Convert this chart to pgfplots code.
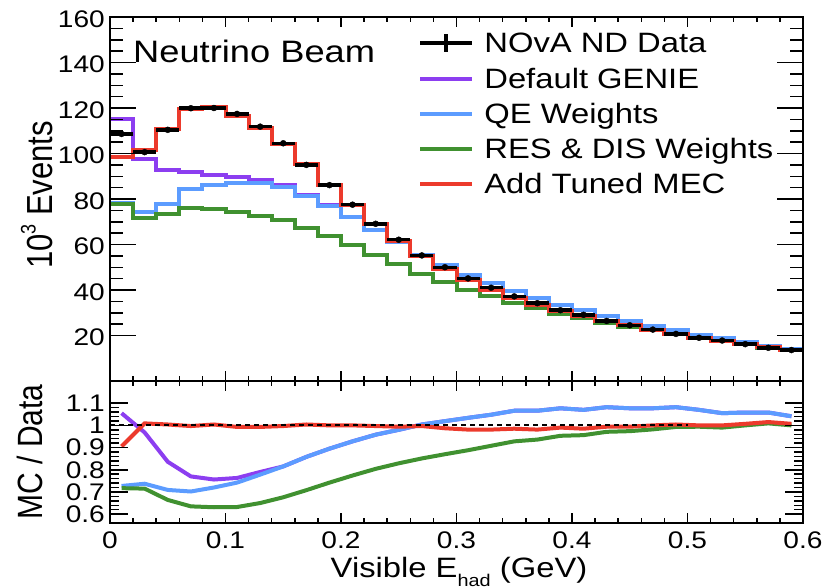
\documentclass[border=0pt]{standalone}
\usepackage{pgfplots}
\pgfplotsset{compat=1.18}
\usepackage{pgfplotstable}
\usepackage{fontspec}
\setmainfont{Liberation Sans}[FakeStretch=1.17]
\newfontfamily\plainfont{Liberation Sans}

\definecolor{cpurple}{RGB}{140,62,240}
\definecolor{cblue}{RGB}{92,156,255}
\definecolor{cgreen}{RGB}{64,145,48}
\definecolor{cred}{RGB}{236,58,44}

\newcommand\ticfont{\fontsize{24bp}{24bp}\selectfont}
\newcommand\legfont{\fontsize{28bp}{28bp}\selectfont}

% histogram: bin low edges (last row closes the final bin at 0.6)
\pgfplotstableread{
lo    def    qe    res   mec
0.00  115.0  78.2  77.7  98.3
0.02  97.6   74.1  71.8  101.5
0.04  92.6   78.0  73.2  110.8
0.06  92.0   84.2  76.1  119.5
0.08  90.5   86.2  75.6  120.4
0.10  89.5   87.2  74.2  116.6
0.12  88.5   87.0  72.6  111.0
0.14  86.0   85.3  70.6  104.2
0.16  81.7   81.5  67.2  95.4
0.18  77.2   77.1  63.6  86.1
0.20  72.0   71.9  59.7  77.5
0.22  66.2   66.2  55.4  68.9
0.24  60.9   60.9  51.3  61.7
0.26  55.4   55.4  47.0  55.0
0.28  51.0   51.0  43.5  49.4
0.30  46.6   46.6  40.0  44.2
0.32  43.0   43.0  37.2  40.2
0.34  39.7   39.7  34.5  36.6
0.36  36.5   36.5  32.0  33.5
0.38  33.5   33.5  29.6  30.8
0.40  31.1   31.1  27.8  28.7
0.42  28.6   28.6  25.6  26.2
0.44  26.4   26.4  23.9  24.4
0.46  24.3   24.3  22.2  22.6
0.48  22.4   22.4  20.6  20.8
0.50  20.3   20.3  18.9  19.0
0.52  18.8   18.8  17.6  17.8
0.54  17.1   17.1  16.2  16.3
0.56  15.4   15.4  14.7  14.8
0.58  14.2   14.2  13.6  13.7
0.60  14.2   14.2  13.6  13.7
}\histtab

% bin centres: data and MC/Data ratios
\pgfplotstableread{
x     data   ex    ey   rdef   rqe    rres   rmec
0.01  108.6  0.01  0.4  1.055  0.727  0.717  0.905
0.03  100.6  0.01  0.4  0.968  0.737  0.715  1.009
0.05  110.4  0.01  0.4  0.836  0.709  0.664  1.004
0.07  119.9  0.01  0.4  0.770  0.702  0.635  0.997
0.09  120.0  0.01  0.4  0.756  0.720  0.631  1.004
0.11  117.4  0.01  0.4  0.763  0.742  0.632  0.993
0.13  111.8  0.01  0.4  0.790  0.778  0.650  0.993
0.15  104.5  0.01  0.4  0.815  0.815  0.676  0.997
0.17  95.0   0.01  0.4  0.858  0.858  0.708  1.004
0.19  86.1   0.01  0.4  0.895  0.895  0.742  1.000
0.21  77.5   0.01  0.4  0.928  0.928  0.774  1.000
0.23  69.1   0.01  0.4  0.958  0.958  0.804  0.997
0.25  62.1   0.01  0.4  0.980  0.980  0.829  0.994
0.27  55.2   0.01  0.4  1.004  1.004  0.851  0.997
0.29  50.0   0.01  0.4  1.019  1.019  0.870  0.987
0.31  45.1   0.01  0.4  1.034  1.034  0.888  0.981
0.33  41.0   0.01  0.4  1.048  1.048  0.908  0.981
0.35  37.2   0.01  0.4  1.066  1.066  0.928  0.985
0.37  34.2   0.01  0.4  1.066  1.066  0.936  0.981
0.39  31.1   0.01  0.4  1.077  1.077  0.953  0.990
0.41  29.1   0.01  0.4  1.070  1.070  0.956  0.985
0.43  26.4   0.01  0.4  1.082  1.082  0.971  0.994
0.45  24.5   0.01  0.4  1.077  1.077  0.974  0.994
0.47  22.6   0.01  0.4  1.077  1.077  0.982  1.000
0.49  20.7   0.01  0.4  1.082  1.082  0.993  1.004
0.51  19.0   0.01  0.4  1.070  1.070  0.994  1.000
0.53  17.8   0.01  0.4  1.055  1.055  0.990  1.000
0.55  16.2   0.01  0.4  1.058  1.058  1.000  1.007
0.57  14.6   0.01  0.4  1.058  1.058  1.009  1.015
0.59  13.6   0.01  0.4  1.041  1.041  1.000  1.007
}\pointtab

\pgfplotsset{
  panel/.style={
    scale only axis, width=693bp, xmin=0, xmax=0.6,
    anchor=north west,
    tick align=inside, xtick pos=both, ytick pos=both,
    axis line style={line width=2bp},
    every tick/.style={line width=1.5bp, black},
    /pgf/number format/assume math mode=true,
    tick label style={font=\ticfont},
    yticklabel style={anchor=east, inner sep=0pt, xshift=-5bp},
    xticklabel style={anchor=north, inner sep=0pt, yshift=-9bp},
  },
  xpart/.style={panel, xtick={0,0.1,0.2,0.3,0.4,0.5,0.6}, minor x tick num=4,
    ytick=\empty, major tick length=10bp, minor tick length=5bp},
  ypart/.style={panel, xtick=\empty},
  mcline/.style={line width=4bp, forget plot},
}

\begin{document}
\begin{tikzpicture}
\useasboundingbox (0,0) rectangle (830bp,-588bp);

% ---------------- top panel ----------------
\begin{axis}[xpart, at={(110bp,-17bp)}, height=364bp, ymin=0, ymax=160,
  xticklabels={},
  legend cell align=left,
  legend style={at={(rel axis cs:0.4444,0.9588)}, anchor=north west,
    draw=none, fill=none, inner sep=0pt, row sep=15bp, font=\legfont,
    nodes={inner sep=0pt, text height=20bp, text depth=0bp, anchor=west}},
]
\addlegendimage{legend image code/.code={
  \draw[line width=3.5bp, black] (0,0) -- (52bp,0);
  \draw[line width=3.5bp, black] (26bp,-9bp) -- (26bp,9bp);
  \path (64bp,0);}}
\addlegendimage{legend image code/.code={
  \draw[line width=4bp, cpurple] (0,0) -- (52bp,0); \path (64bp,0);}}
\addlegendimage{legend image code/.code={
  \draw[line width=4bp, cblue] (0,0) -- (52bp,0); \path (64bp,0);}}
\addlegendimage{legend image code/.code={
  \draw[line width=4bp, cgreen] (0,0) -- (52bp,0); \path (64bp,0);}}
\addlegendimage{legend image code/.code={
  \draw[line width=4bp, cred] (0,0) -- (52bp,0); \path (64bp,0);}}

\addplot[const plot, mcline, cpurple] table[x=lo, y=def] {\histtab};
\addplot[const plot, mcline, cblue] table[x=lo, y=qe] {\histtab};
\addplot[const plot, mcline, cgreen] table[x=lo, y=res] {\histtab};
\addplot[const plot, mcline, cred] table[x=lo, y=mec] {\histtab};
\addplot[only marks, mark=*, mark size=3bp, black, forget plot,
  error bars/.cd, x dir=both, x explicit, y dir=both, y explicit,
  error mark=none, error bar style={line width=3.5bp, black}]
  table[x=x, y=data, x error=ex, y error=ey] {\pointtab};

\legend{NOvA ND Data, Default GENIE, QE Weights, RES \& DIS Weights, Add Tuned MEC}
\end{axis}

\begin{axis}[ypart, at={(110bp,-17bp)}, height=364bp, ymin=0, ymax=160,
  ytick={20,40,60,80,100,120,140,160}, minor y tick num=3,
  major tick length=26bp, minor tick length=13bp,
  yticklabel style={yshift=-2bp}]
\end{axis}

% ---------------- ratio panel ----------------
\begin{axis}[xpart, at={(110bp,-381bp)}, height=142bp, ymin=0.56, ymax=1.2]
\addplot[mcline, cpurple] table[x=x, y=rdef] {\pointtab};
\addplot[mcline, cblue] table[x=x, y=rqe] {\pointtab};
\addplot[mcline, cgreen] table[x=x, y=rres] {\pointtab};
\addplot[mcline, cred] table[x=x, y=rmec] {\pointtab};
\addplot[black, line width=2bp, dash pattern=on 5bp off 4bp, forget plot]
  coordinates {(0,1) (0.5,1)};
\end{axis}

\begin{axis}[ypart, at={(110bp,-381bp)}, height=142bp, ymin=0.56, ymax=1.2,
  ytick={0.6,0.7,0.8,0.9,1,1.1}, yticklabels={0.6,0.7,0.8,0.9,1,1.1},
  minor y tick num=4, major tick length=18bp, minor tick length=9bp]
\end{axis}

% ---------------- texts ----------------
\node[anchor=base west, inner sep=0pt, font=\fontsize{31bp}{31bp}\selectfont]
  at (133bp,-62.7bp) {Neutrino Beam};
\node[anchor=base, inner sep=0pt, rotate=90, yscale=1.17,
  font=\plainfont\fontsize{31bp}{31bp}\selectfont]
  at (52bp,-195bp) {10\raisebox{0.45em}{\fontsize{18bp}{18bp}\selectfont 3} Events};
\node[anchor=base, inner sep=0pt, rotate=90, yscale=1.17,
  font=\plainfont\fontsize{30bp}{30bp}\selectfont]
  at (42bp,-452bp) {MC / Data};
\node[anchor=base, inner sep=0pt, font=\fontsize{28bp}{28bp}\selectfont]
  at (459bp,-577bp) {Visible E\raisebox{-9bp}{\fontsize{17bp}{17bp}\selectfont had} (GeV)};
\end{tikzpicture}
\end{document}
